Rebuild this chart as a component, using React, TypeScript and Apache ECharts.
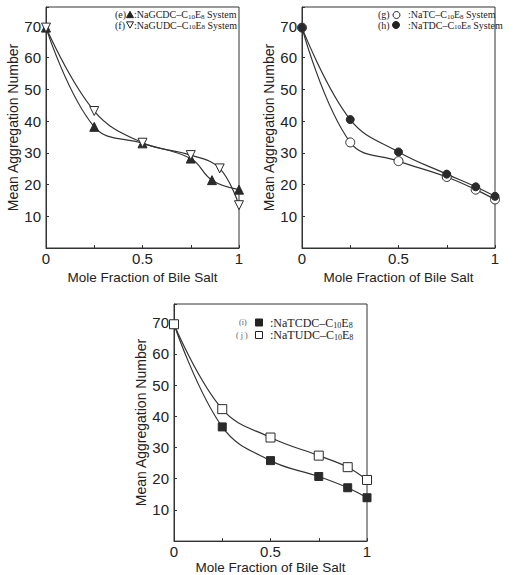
import React, { useEffect, useRef } from "react";
import * as echarts from "echarts";

// ---------- data ----------
const xE = [0, 0.25, 0.5, 0.75, 0.86, 1];
const yE = [69.5, 38.2, 33.0, 28.2, 21.4, 18.4]; // (e) NaGCDC ▲
const xF = [0, 0.25, 0.5, 0.75, 0.9, 1];
const yF = [69.5, 43.2, 33.2, 29.3, 25.1, 13.5]; // (f) NaGUDC ▽

const xG = [0, 0.25, 0.5, 0.75, 0.9, 1];
const yG = [69.5, 33.3, 27.4, 22.4, 18.4, 15.3]; // (g) NaTC ○
const yH = [69.5, 40.5, 30.3, 23.3, 19.3, 16.3]; // (h) NaTDC ●

const xI = [0, 0.25, 0.5, 0.75, 0.9, 1];
const yI = [69.5, 36.6, 25.8, 20.7, 17.1, 13.9]; // (i) NaTCDC ■
const yJ = [69.5, 42.3, 33.2, 27.4, 23.7, 19.6]; // (j) NaTUDC □

const xTickLabels = ["0", "0.5", "1"];
const yTicks = [10, 20, 30, 40, 50, 60, 70];

const zip = (xs: number[], ys: number[]) => xs.map((x, i) => [x, ys[i]]);

const SANS = "Liberation Sans";
const SERIF = "Liberation Serif";
const INK = "#222";
const LINE = "#333";

const grids = [
  { left: 46, top: 7, width: 193, height: 241 },
  { left: 302, top: 7, width: 193, height: 241 },
  { left: 174, top: 304, width: 193, height: 239 },
];

let measureCtx: CanvasRenderingContext2D | null = null;
function tw(text: string, size: number) {
  if (!measureCtx) measureCtx = document.createElement("canvas").getContext("2d");
  if (!measureCtx) return text.length * size * 0.5;
  measureCtx.font = `${size}px "${SERIF}"`;
  return measureCtx.measureText(text).width;
}

function makeX(i: number, nameGap: number) {
  return {
    type: "value",
    gridIndex: i,
    min: 0,
    max: 1,
    interval: 0.25,
    name: "Mole Fraction of Bile Salt",
    nameLocation: "middle",
    nameGap,
    nameTextStyle: { fontFamily: SANS, fontSize: 13.5, color: INK },
    axisLine: { show: true, lineStyle: { color: LINE, width: 1 } },
    axisTick: { show: true, inside: true, length: 3, lineStyle: { color: LINE } },
    splitLine: { show: false },
    axisLabel: {
      fontFamily: SANS,
      fontSize: 15,
      color: INK,
      margin: 3,
      formatter: (v: number) => {
        const s = String(Math.round(v * 100) / 100);
        return xTickLabels.includes(s) ? s : "";
      },
    },
  };
}

function makeY(i: number, nameGap: number) {
  return {
    type: "value",
    gridIndex: i,
    min: 0,
    max: 76,
    interval: 10,
    name: "Mean Aggregation Number",
    nameLocation: "middle",
    nameGap,
    nameTextStyle: { fontFamily: SANS, fontSize: 14, color: INK },
    axisLine: { show: true, lineStyle: { color: LINE, width: 1 } },
    axisTick: { show: true, inside: true, length: 3, lineStyle: { color: LINE } },
    splitLine: { show: false },
    axisLabel: {
      fontFamily: SANS,
      fontSize: 15,
      color: INK,
      margin: 5,
      formatter: (v: number) => (yTicks.includes(v) ? String(v) : ""),
    },
  };
}

function lineSeries(
  i: number,
  data: number[][],
  symbol: string,
  size: number,
  filled: boolean,
  rotate = 0
) {
  return {
    type: "line",
    xAxisIndex: i,
    yAxisIndex: i,
    data,
    smooth: 0.4,
    symbol,
    symbolSize: size,
    symbolRotate: rotate,
    showAllSymbol: true,
    lineStyle: { color: LINE, width: 1.2 },
    itemStyle: {
      color: filled ? "#2a2a2a" : "#fff",
      borderColor: "#2a2a2a",
      borderWidth: 1,
    },
    z: 3,
  };
}

// segments: [text, isSubscript, spaceBefore]
type Seg = [string, boolean, boolean?];
function legendRow(x0: number, y: number, segs: Seg[], fs: number, sub: number, shift: number) {
  let x = x0;
  const els: any[] = [];
  for (const [t, isSub, spaceBefore] of segs) {
    if (spaceBefore) x += tw(" ", fs);
    const size = isSub ? sub : fs;
    els.push({
      type: "text",
      x,
      y: isSub ? y + shift : y,
      z: 10,
      style: {
        text: t,
        fontFamily: SERIF,
        fontSize: size,
        lineHeight: isSub ? 6 : 9,
        fill: INK,
        align: "left",
        verticalAlign: "middle",
      },
    });
    x += tw(t, size);
  }
  return els;
}

function plainText(x: number, y: number, t: string, fs: number, color = INK) {
  return {
    type: "text",
    x,
    y,
    z: 10,
    style: {
      text: t,
      fontFamily: SERIF,
      fontSize: fs,
      lineHeight: Math.min(fs, 8),
      fill: color,
      align: "left",
      verticalAlign: "middle",
    },
  };
}

function tri(cx: number, cy: number, s: number, down: boolean, filled: boolean) {
  const h = s * 0.9;
  const pts = down
    ? [
        [cx - s / 2, cy - h / 2],
        [cx + s / 2, cy - h / 2],
        [cx, cy + h / 2],
      ]
    : [
        [cx - s / 2, cy + h / 2],
        [cx + s / 2, cy + h / 2],
        [cx, cy - h / 2],
      ];
  return {
    type: "polygon",
    z: 10,
    shape: { points: pts },
    style: { fill: filled ? "#222" : "#fff", stroke: "#222", lineWidth: 1 },
  };
}

export default function App() {
  const ref = useRef<HTMLDivElement>(null);

  useEffect(() => {
    if (!ref.current) return;
    const chart = echarts.init(ref.current, null, { renderer: "svg" });

    const sys = (name: string, withSystem: boolean): Seg[] => {
      const s: Seg[] = [[`:${name}–C`, false], ["10", true], ["E", false], ["8", true]];
      if (withSystem) s.push(["System", false, true]);
      return s;
    };

    const r1 = 14.5;
    const r2 = 25;
    const q1 = 322.5;
    const q2 = 335;

    const option: any = {
      animation: false,
      backgroundColor: "#fff",
      grid: grids.map((g) => ({
        ...g,
        show: true,
        borderColor: LINE,
        borderWidth: 1,
        backgroundColor: "transparent",
        containLabel: false,
      })),
      xAxis: [makeX(0, 22), makeX(1, 22), makeX(2, 14)],
      yAxis: [makeY(0, 13), makeY(1, 16), makeY(2, 26)],
      series: [
        lineSeries(0, zip(xE, yE), "triangle", 9, true),
        lineSeries(0, zip(xF, yF), "triangle", 9, false, 180),
        lineSeries(1, zip(xG, yG), "circle", 9, false),
        lineSeries(1, zip(xG, yH), "circle", 8, true),
        lineSeries(2, zip(xI, yI), "rect", 8, true),
        lineSeries(2, zip(xI, yJ), "rect", 9, false),
      ],
      graphic: [
        // panel 1 legend
        plainText(115, r1, "(e)", 10),
        tri(130, r1, 7, false, true),
        ...legendRow(134, r1, sys("NaGCDC", true), 10, 7, 2),
        plainText(115, r2, "(f)", 10),
        tri(130, r2, 7, true, false),
        ...legendRow(134, r2, sys("NaGUDC", true), 10, 7, 2),
        // panel 2 legend
        plainText(378, r1, "(g)", 10),
        {
          type: "circle",
          z: 10,
          shape: { cx: 396.5, cy: r1 + 0.5, r: 3.5 },
          style: { fill: "#fff", stroke: "#222", lineWidth: 1 },
        },
        ...legendRow(408, r1, sys("NaTC", true), 10, 7, 2),
        plainText(378, r2, "(h)", 10),
        {
          type: "circle",
          z: 10,
          shape: { cx: 396, cy: r2, r: 3.5 },
          style: { fill: "#222", stroke: "#222", lineWidth: 1 },
        },
        ...legendRow(408, r2, sys("NaTDC", true), 10, 7, 2),
        // panel 3 legend
        plainText(239, q1, "(i)", 8, "#555"),
        {
          type: "rect",
          z: 10,
          shape: { x: 255.5, y: q1 - 3.5, width: 7, height: 7 },
          style: { fill: "#222", stroke: "#222", lineWidth: 1 },
        },
        ...legendRow(270, q1, sys("NaTCDC", false), 12, 8, 2.5),
        plainText(236, q2, "( j )", 8, "#555"),
        {
          type: "rect",
          z: 10,
          shape: { x: 255.5, y: q2 - 3.5, width: 7, height: 7 },
          style: { fill: "#fff", stroke: "#222", lineWidth: 1 },
        },
        ...legendRow(270, q2, sys("NaTUDC", false), 12, 8, 2.5),
      ],
    };

    chart.setOption(option);
    return () => chart.dispose();
  }, []);

  return (
    <div
      ref={ref}
      style={{ position: "absolute", left: 0, top: 0, width: 522, height: 575, background: "#fff" }}
    />
  );
}
